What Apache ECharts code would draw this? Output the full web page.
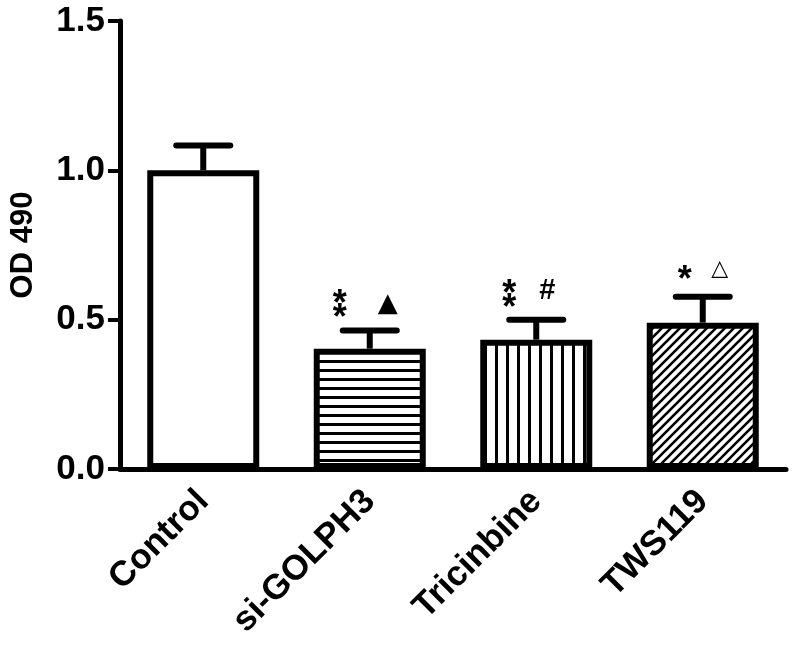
<!DOCTYPE html>
<html>
<head>
<meta charset="utf-8">
<script src="https://cdn.jsdelivr.net/npm/echarts@6/dist/echarts.min.js"></script>
<style>
html,body{margin:0;padding:0;background:#fff;}
#chart{width:793px;height:647px;}
</style>
</head>
<body>
<div id="chart"></div>
<script>
// ---- data ----
const categories = ['Control', 'si-GOLPH3', 'Tricinbine', 'TWS119'];
const means = [1.0, 0.403, 0.433, 0.490];
const errors = [0.083, 0.061, 0.067, 0.087];
const annoLeft = ['', '*\n*', '*\n*', '*'];
const annoRight = ['', '▲', '#', '△'];
const yTicks = ['0.0', '0.5', '1.0', '1.5'];
const yAxisTitle = 'OD 490';

// ---- fill patterns ----
function makePattern(kind) {
  const c = document.createElement('canvas');
  const ctx = c.getContext('2d');
  if (kind === 'white') {
    c.width = 4; c.height = 4;
    ctx.fillStyle = '#fff'; ctx.fillRect(0, 0, 4, 4);
  } else if (kind === 'hlines') {
    c.width = 10; c.height = 9;
    ctx.fillStyle = '#fff'; ctx.fillRect(0, 0, 10, 9);
    ctx.fillStyle = '#000'; ctx.fillRect(0, 0, 10, 3);
  } else if (kind === 'vlines') {
    c.width = 11; c.height = 10;
    ctx.fillStyle = '#fff'; ctx.fillRect(0, 0, 11, 10);
    ctx.fillStyle = '#000'; ctx.fillRect(0, 0, 3, 10);
  } else if (kind === 'diag') {
    const s = 9;
    c.width = s; c.height = s;
    ctx.fillStyle = '#fff'; ctx.fillRect(0, 0, s, s);
    ctx.strokeStyle = '#000'; ctx.lineWidth = 2.6;
    ctx.beginPath();
    ctx.moveTo(-1, s + 1); ctx.lineTo(s + 1, -1);
    ctx.moveTo(-2, 2); ctx.lineTo(2, -2);
    ctx.moveTo(s - 2, s + 2); ctx.lineTo(s + 2, s - 2);
    ctx.stroke();
  }
  return { image: c, repeat: 'repeat' };
}
const fills = [makePattern('white'), makePattern('hlines'), makePattern('vlines'), makePattern('diag')];

const FONT = 'Liberation Sans, Arial, sans-serif';
const chart = echarts.init(document.getElementById('chart'), null, { renderer: 'canvas' });

// annotation placement (pixel offsets from the error-bar top)
const leftDx = [0, -30, -27, -18];
const leftDy = [0, -4, -4, -9];
const rightDx = [0, 18, 11, 17];
const rightDy = [0, -13, -14, -16];

const option = {
  backgroundColor: '#fff',
  animation: false,
  grid: { left: 118, right: 7, top: 21, bottom: 178 },
  xAxis: {
    type: 'category',
    data: categories,
    axisLine: { lineStyle: { color: '#000', width: 5 } },
    axisTick: { alignWithLabel: true, length: 12, lineStyle: { color: '#000', width: 4 } },
    axisLabel: {
      rotate: 45, margin: 27, color: '#000',
      fontFamily: FONT, fontWeight: 'bold', fontSize: 35
    }
  },
  yAxis: {
    type: 'value',
    min: 0, max: 1.5, interval: 0.5,
    name: yAxisTitle,
    nameLocation: 'middle',
    nameGap: 81,
    nameRotate: 90,
    nameTextStyle: { color: '#000', fontFamily: FONT, fontWeight: 'bold', fontSize: 31 },
    splitLine: { show: false },
    axisLine: { show: true, lineStyle: { color: '#000', width: 5 } },
    axisTick: { show: true, length: 12, lineStyle: { color: '#000', width: 4 } },
    axisLabel: {
      margin: 15, color: '#000', fontFamily: FONT, fontWeight: 'bold', fontSize: 35,
      formatter: function (v) { return yTicks[Math.round(v / 0.5)]; }
    }
  },
  series: [
    {
      type: 'bar',
      barWidth: 112,
      data: means.map(function (v, i) {
        return { value: v, itemStyle: { color: fills[i], borderColor: '#000', borderWidth: 6 } };
      }),
      z: 2
    },
    {
      type: 'custom',
      z: 3,
      data: means.map(function (v, i) { return [i, v, errors[i]]; }),
      renderItem: function (params, api) {
        const i = api.value(0), v = api.value(1), e = api.value(2);
        const p0 = api.coord([i, v]);
        const p1 = api.coord([i, v + e]);
        return {
          type: 'group',
          children: [
            { type: 'line', shape: { x1: p0[0], y1: p0[1], x2: p1[0], y2: p1[1] }, style: { stroke: '#000', lineWidth: 6 } },
            { type: 'line', shape: { x1: p1[0] - 27, y1: p1[1], x2: p1[0] + 27, y2: p1[1] }, style: { stroke: '#000', lineWidth: 6, lineCap: 'round' } }
          ]
        };
      }
    },
    {
      type: 'custom',
      z: 4,
      data: means.map(function (v, i) { return [i, v + errors[i]]; }),
      renderItem: function (params, api) {
        const i = api.value(0);
        const p = api.coord([i, api.value(1)]);
        const idx = params.dataIndex;
        return {
          type: 'group',
          children: [
            {
              type: 'text',
              style: {
                text: annoLeft[idx], x: p[0] + leftDx[idx], y: p[1] + leftDy[idx],
                textAlign: 'center', textVerticalAlign: 'bottom',
                font: 'bold 36px ' + FONT, fill: '#000', lineHeight: 14
              }
            },
            {
              type: 'text',
              style: {
                text: annoRight[idx], x: p[0] + rightDx[idx], y: p[1] + rightDy[idx],
                textAlign: 'center', textVerticalAlign: 'bottom',
                font: (idx === 2 ? 'bold 29px ' + FONT : (idx === 1 ? '26px DejaVu Sans' : '22px DejaVu Sans')), fill: '#000'
              }
            }
          ]
        };
      }
    }
  ]
};
chart.setOption(option);
</script>
</body>
</html>
